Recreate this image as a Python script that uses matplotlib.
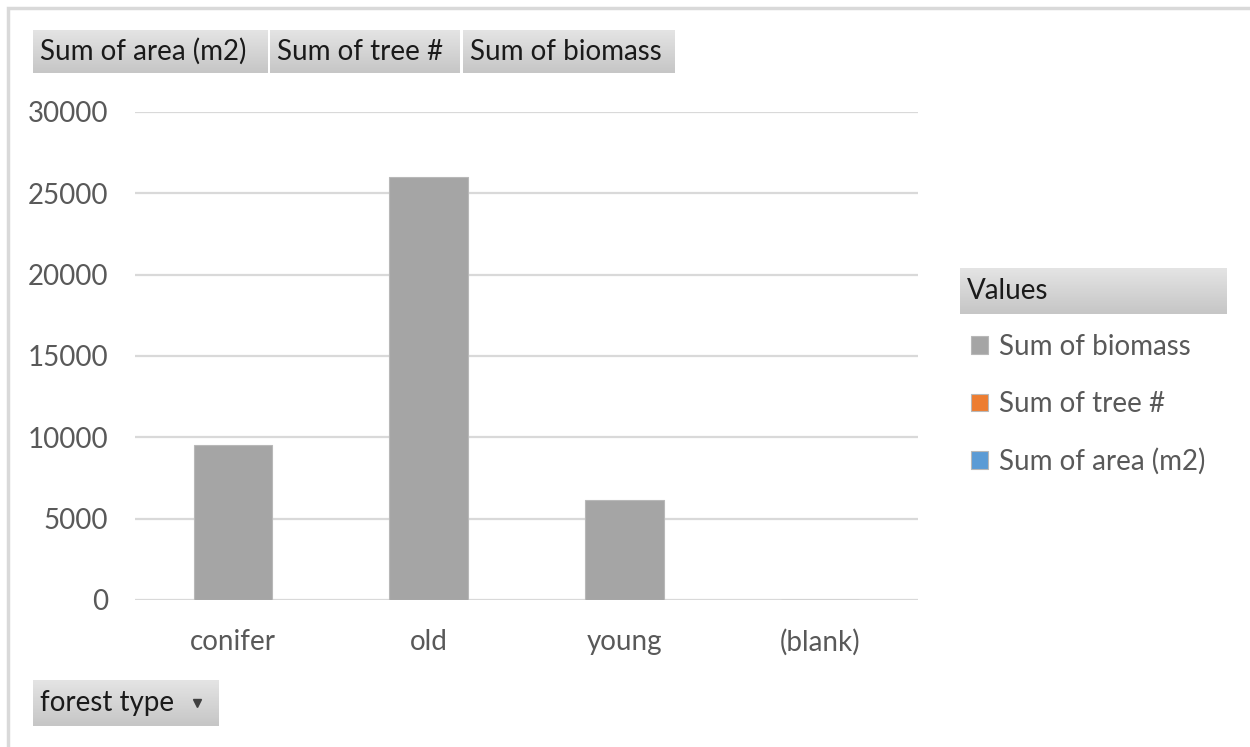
import numpy as np
import matplotlib.pyplot as plt
from matplotlib.patches import Rectangle

plt.rcParams['font.family'] = ['Lato', 'DejaVu Sans']

# pivot chart data (biomass per forest type; tree # and area too small to see)
forest_types = ['conifer', 'old', 'young', '(blank)']
area_m2 = [0, 0, 0, 0]
tree_count = [0, 0, 0, 0]
biomass = [9500, 26000, 6150, 0]

series_names = ['Sum of area (m2)', 'Sum of tree #', 'Sum of biomass']
series_colors = ['#5b9bd5', '#ed7d31', '#a5a5a5']

W, H = 1250, 747
fig = plt.figure(figsize=(W / 100, H / 100), dpi=100)

def box(x0, y0, x1, y1):
    # pixel box -> figure fraction rect
    return [x0 / W, 1 - y1 / H, (x1 - x0) / W, (y1 - y0) / H]

# outer chart border
fig.patches.append(Rectangle((8 / W, -0.1), 1.2, 1 - 8 / H + 0.1, transform=fig.transFigure,
                             fill=False, edgecolor='#d9d9d9', lw=2.5))

ax = fig.add_axes(box(135, 112, 918, 600))
x = np.arange(len(forest_types))
bottom = np.zeros(len(x))
bars = []
for vals, name, col in zip([area_m2, tree_count, biomass], series_names, series_colors):
    b = ax.bar(x, vals, width=0.4, bottom=bottom, color=col, edgecolor='#b8b8b8', lw=0.8,
               label=name, zorder=3)
    bars.append(b)
    bottom += np.array(vals)

ax.set_xlim(-0.5, len(x) - 0.5)
ax.set_ylim(0, 30000)
ax.set_yticks(range(0, 30001, 5000))
ax.set_xticks(x)
ax.set_xticklabels(forest_types)
ax.grid(axis='y', color='#d9d9d9', lw=1.6, zorder=0)
for s in ax.spines.values():
    s.set_visible(False)
ax.tick_params(length=0, labelsize=20, labelcolor='#595959')
ax.tick_params(axis='y', pad=19.5)
ax.tick_params(axis='x', pad=21)

grad = np.linspace(0, 1, 50).reshape(-1, 1)

def button(x0, y0, x1, y1, label, arrow=False):
    bax = fig.add_axes(box(x0, y0, x1, y1))
    bax.imshow(grad, cmap=plt.matplotlib.colors.LinearSegmentedColormap.from_list(
        'g', ['#e4e4e4', '#c6c6c6']), aspect='auto', extent=[0, 1, 0, 1], origin='upper')
    bax.set_xlim(0, 1)
    bax.set_ylim(0, 1)
    bax.axis('off')
    bax.text(7 / (x1 - x0), 0.5, label, fontsize=20, color='#1a1a1a', va='center', ha='left')
    if arrow:
        bax.plot([(x1 - x0 - 22) / (x1 - x0)], [0.5], marker='v', ms=6, color='#404040')

button(33, 30, 268, 73, 'Sum of area (m2)')
button(270, 30, 460, 73, 'Sum of tree #')
button(463, 30, 675, 73, 'Sum of biomass')
button(960, 268, 1227, 314, 'Values')
button(33, 680, 219, 726, 'forest type', arrow=True)

leg = fig.legend(handles=bars[::-1], labels=series_names[::-1], loc='upper left',
                 bbox_to_anchor=(946 / W, 1 - 309 / H), frameon=False, fontsize=20,
                 handlelength=0.6, handleheight=0.6, handletextpad=0.4, labelspacing=1.12,
                 labelcolor='#595959')

fig.savefig('out.png', dpi=100, facecolor='white')
